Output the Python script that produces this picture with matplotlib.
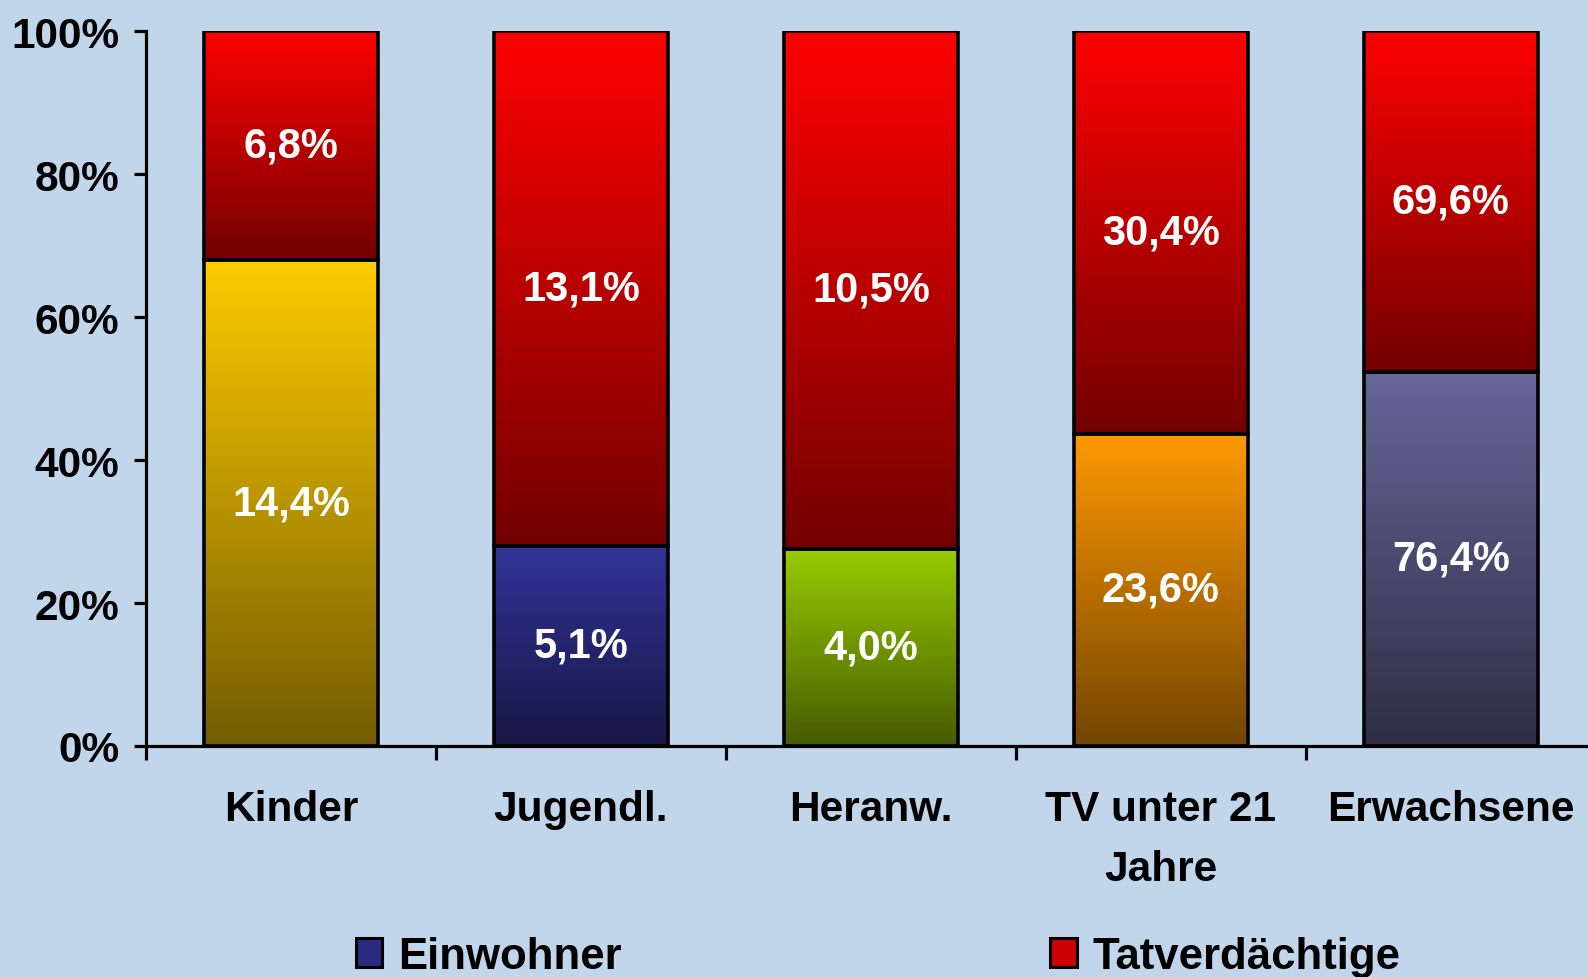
import numpy as np
import matplotlib
matplotlib.use("Agg")
import matplotlib.pyplot as plt
from matplotlib.patches import Patch
from matplotlib.colors import to_rgb

# Daten
kategorien = ['Kinder', 'Jugendl.', 'Heranw.', 'TV unter 21\nJahre', 'Erwachsene']
einwohner = [14.4, 5.1, 4.0, 23.6, 76.4]
tatverdaechtige = [6.8, 13.1, 10.5, 30.4, 69.6]
farben_unten = ['#FFCC00', '#333399', '#99CC00', '#FF9900', '#666699']
farbe_oben = '#FF0000'
y_ticks = [0, 0.2, 0.4, 0.6, 0.8, 1.0]
y_labels = ['0%', '20%', '40%', '60%', '80%', '100%']

hintergrund = '#C1D6EB'
plt.rcParams['font.family'] = ['Liberation Sans', 'DejaVu Sans']
plt.rcParams['font.weight'] = 'bold'


def verlauf(farbe, dunkel=0.45, n=256):
    # vertikaler Farbverlauf: unten dunkel, oben volle Farbe
    c = np.array(to_rgb(farbe))
    t = np.linspace(dunkel, 1.0, n)[:, None]
    return (t * c)[:, None, :]


fig = plt.figure(figsize=(15.88, 9.78), dpi=100, facecolor=hintergrund)
ax = fig.add_axes([0.0919, 0.2362, 0.913, 0.731])
ax.set_facecolor(hintergrund)

ew = np.array(einwohner)
tv = np.array(tatverdaechtige)
summe = ew + tv
anteil_ew = ew / summe
anteil_tv = tv / summe
x = np.arange(len(kategorien)) + 0.5
breite = 0.6

bars_u = ax.bar(x, anteil_ew, breite, facecolor='none', edgecolor='black', linewidth=2.6, zorder=3)
bars_o = ax.bar(x, anteil_tv, breite, bottom=anteil_ew, facecolor='none', edgecolor='black',
                linewidth=2.6, zorder=3)

for i, (bu, bo) in enumerate(zip(bars_u, bars_o)):
    for bar, farbe in ((bu, farben_unten[i]), (bo, farbe_oben)):
        x0, y0 = bar.get_x(), bar.get_y()
        x1, y1 = x0 + bar.get_width(), y0 + bar.get_height()
        im = ax.imshow(verlauf(farbe), extent=[x0, x1, y0, y1], origin='lower',
                       aspect='auto', zorder=2, interpolation='bilinear')
        im.set_clip_path(bar)

    # Beschriftungen
    ax.text(x[i], anteil_ew[i] / 2, f'{einwohner[i]:.1f}%'.replace('.', ','),
            ha='center', va='center', color='white', fontsize=30, fontweight='bold', zorder=4)
    ax.text(x[i], anteil_ew[i] + anteil_tv[i] / 2, f'{tatverdaechtige[i]:.1f}%'.replace('.', ','),
            ha='center', va='center', color='white', fontsize=30, fontweight='bold', zorder=4)

ax.set_xlim(0, len(kategorien))
ax.set_ylim(0, 1)

ax.spines['top'].set_visible(False)
ax.spines['right'].set_visible(False)
ax.spines['left'].set_linewidth(2.3)
ax.spines['bottom'].set_linewidth(2.3)

ax.set_yticks(y_ticks)
ax.set_yticklabels(y_labels, fontsize=30.5, fontweight='bold')
ax.tick_params(axis='y', direction='out', length=9, width=2.3, pad=10)

ax.set_xticks(np.arange(len(kategorien) + 1))
ax.set_xticklabels([])
ax.tick_params(axis='x', which='major', direction='out', length=10, width=2.3)
ax.set_xticks(x, minor=True)
ax.set_xticklabels(kategorien, minor=True, fontsize=30.5, fontweight='bold', linespacing=1.65)
ax.tick_params(axis='x', which='minor', length=0, pad=31)

handles = [Patch(facecolor='#2a2a80', edgecolor='black', linewidth=2.2),
           Patch(facecolor='#cc0000', edgecolor='black', linewidth=2.2)]
fig.legend(handles, ['Einwohner', 'Tatverdächtige'], loc='center', bbox_to_anchor=(0.553, 0.021),
           ncol=2, frameon=False, prop={'size': 31.5, 'weight': 'bold'},
           handlelength=0.6, handleheight=0.65, handletextpad=0.36, columnspacing=9.8)

fig.savefig('out.png', dpi=100, facecolor=hintergrund)
